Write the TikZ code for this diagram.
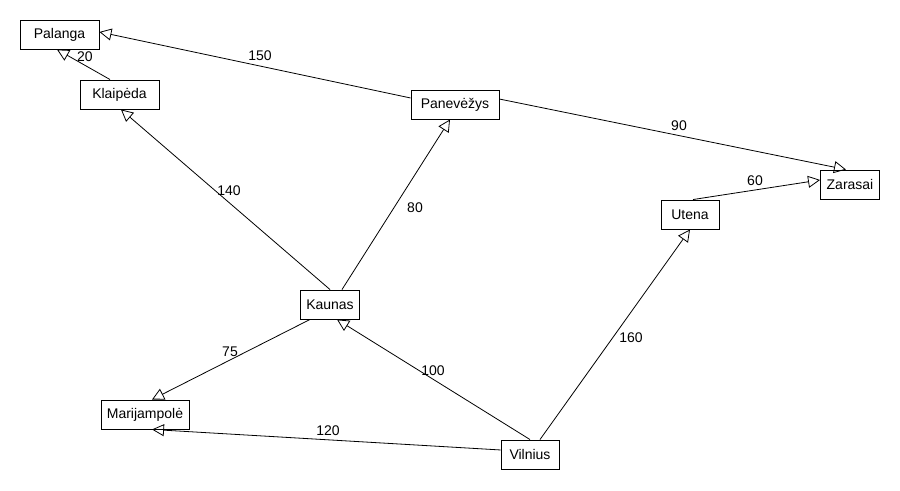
\documentclass[tikz,border=0pt]{standalone}
\usepackage{fontspec}
\setmainfont{Liberation Sans}
\usetikzlibrary{arrows.meta}
\tikzset{
  city/.style={draw, line width=0.7pt, inner sep=0pt, minimum height=21.75pt, font=\fontsize{10.5}{12}\selectfont},
  road/.style={draw, line width=0.6pt, -{Triangle[open, length=9pt, width=9pt, line width=0.6pt]}},
  dist/.style={font=\fontsize{10.5}{12}\selectfont, inner sep=0pt}
}
\begin{document}
\begin{tikzpicture}[x=0.75pt, y=-0.75pt]
\useasboundingbox (0,0) rectangle (900,490);
\fill[white] (0,0) rectangle (900,490);
% nodes
\node[city, minimum width=59.25pt] (pal) at (59.5,34.5) {Palanga};
\node[city, minimum width=59.25pt] (kla) at (119.5,94.5) {Klaipėda};
\node[city, minimum width=66pt] (pan) at (455,104.5) {Panevėžys};
\node[city, minimum width=44.25pt] (zar) at (850,184.5) {Zarasai};
\node[city, minimum width=43.5pt] (ute) at (690,214.5) {Utena};
\node[city, minimum width=44.25pt] (kau) at (330,304.5) {Kaunas};
\node[city, minimum width=66pt] (mar) at (145,414.5) {Marijampolė};
\node[city, minimum width=43.5pt] (vil) at (530,454.5) {Vilnius};
% edges
\draw[road] ([xshift=-7.1pt]kla.north) -- ([xshift=-1.9pt]pal.south);
\draw[road] ([yshift=4.9pt]pan.west) -- ([yshift=1.9pt]pal.east);
\draw[road] ([yshift=4.1pt]pan.east) -- ([xshift=-3pt]zar.north);
\draw[road] ([xshift=2.25pt]ute.north) -- ([yshift=3.4pt]zar.west);
\draw[road] (kau.north) -- ([xshift=1.1pt]kla.south);
\draw[road] ([xshift=9pt]kau.north) -- ([xshift=-3.75pt]pan.south);
\draw[road] ([xshift=-15pt]kau.south) -- ([xshift=5.25pt]mar.north);
\draw[road] (vil.north) -- ([xshift=5.25pt]kau.south);
\draw[road] ([yshift=3.4pt]vil.west) -- ([xshift=5.25pt]mar.south);
\draw[road] ([xshift=7.5pt]vil.north) -- (ute.south);
% labels
\node[dist] (l20) at (85,57) {20};
\node[dist] (l150) at (260,56) {150};
\node[dist] (l90) at (679,126) {90};
\node[dist] (l60) at (755,181) {60};
\node[dist] (l140) at (229,191) {140};
\node[dist] (l80) at (415,208) {80};
\node[dist] (l75) at (230,352) {75};
\node[dist] (l100) at (433,371) {100};
\node[dist] (l120) at (328,431) {120};
\node[dist] (l160) at (631,338) {160};
\end{tikzpicture}
\end{document}
